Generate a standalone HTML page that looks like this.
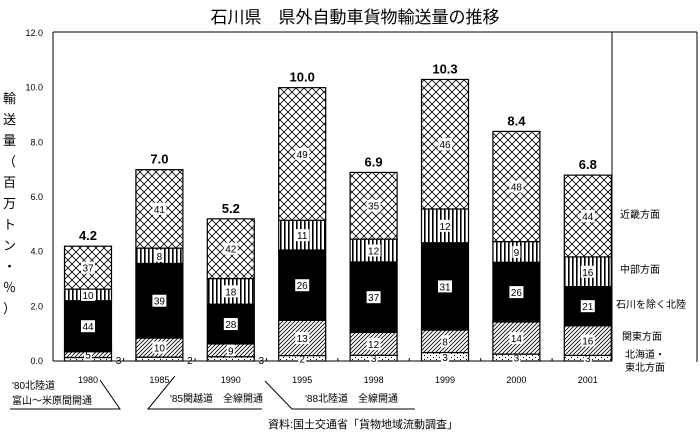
<!DOCTYPE html>
<html><head><meta charset="utf-8"><style>
body{margin:0;background:#fff;}
svg{display:block;font-family:"Liberation Sans","Noto Sans CJK JP",sans-serif;}
</style></head><body>
<svg width="700" height="434" viewBox="0 0 700 434" id="chart">
<defs>
<pattern id="pCross" width="8" height="8" patternUnits="userSpaceOnUse"><rect width="8" height="8" fill="#fff"/><path d="M0,0L8,8M8,0L0,8" stroke="#000" stroke-width="0.8"/></pattern>
<pattern id="pVert" width="4" height="4" patternUnits="userSpaceOnUse"><rect width="4" height="4" fill="#fff"/><rect x="0" width="1.6" height="4" fill="#000"/></pattern>
<pattern id="pDiag" width="4" height="4" patternUnits="userSpaceOnUse"><rect width="4" height="4" fill="#fff"/><path d="M-1,5L5,-1M-1,1L1,-1M3,5L5,3" stroke="#000" stroke-width="0.8"/></pattern>
<pattern id="pDot" width="6" height="4" patternUnits="userSpaceOnUse"><rect width="6" height="4" fill="#fff"/><rect x="1" y="1" width="1" height="1" fill="#000"/><rect x="4" y="3" width="1" height="1" fill="#000"/></pattern>
</defs>
<text x="355" y="23" font-size="17" text-anchor="middle">石川県　県外自動車貨物輸送量の推移</text>
<line x1="53" y1="32" x2="697" y2="32" stroke="#000"/>
<line x1="697" y1="32" x2="697" y2="362" stroke="#000"/>
<line x1="53" y1="32" x2="53" y2="361" stroke="#000"/>
<line x1="612" y1="32" x2="612" y2="361" stroke="#000"/>
<line x1="53" y1="361" x2="612" y2="361" stroke="#000"/>
<g id="yticks"></g>
<text font-size="13">
<tspan x="3" y="103">輸</tspan><tspan x="3" y="124">送</tspan><tspan x="3" y="145">量</tspan><tspan x="3" y="166">（</tspan><tspan x="3" y="187">百</tspan><tspan x="3" y="208">万</tspan><tspan x="3" y="229">ト</tspan><tspan x="3" y="250">ン</tspan><tspan x="3" y="271">・</tspan><tspan x="3" y="292">％</tspan><tspan x="3" y="313">）</tspan></text>
<g id="bars"></g>
<g font-size="10">
<text x="620" y="218">近畿方面</text>
<text x="620" y="273">中部方面</text>
<text x="616" y="308">石川を除く北陸</text>
<text x="622" y="340">関東方面</text>
<text x="625" y="358">北海道・</text>
<text x="625" y="371">東北方面</text>
</g>
<g font-size="10" stroke="#000" fill="none">
<text x="12" y="389" fill="#000" stroke="none">'80北陸道</text>
<text x="12" y="404" fill="#000" stroke="none">富山〜米原間開通</text>
<polyline points="10,409 120,409 100,380"/>
<text x="170" y="402" fill="#000" stroke="none">'85関越道　全線開通</text>
<polyline points="175,376 148,409 262,409"/>
<text x="305" y="402" fill="#000" stroke="none">'88北陸道　全線開通</text>
<polyline points="265,381 292,409 415,409"/>
<text x="268" y="428" fill="#000" stroke="none" font-size="11">資料:国土交通省「貨物地域流動調査」</text>
</g>
</svg>
<script>
const years = ["1980","1985","1990","1995","1998","1999","2000","2001"];
const totals = [4.2, 7.0, 5.2, 10.0, 6.9, 10.3, 8.4, 6.8];
const pctTohoku = [3, 2, 3, 2, 3, 3, 3, 3];
const pctKanto = [5, 10, 9, 13, 12, 8, 14, 16];
const pctHokuriku = [44, 39, 28, 26, 37, 31, 26, 21];
const pctChubu = [10, 8, 18, 11, 12, 12, 9, 16];
const pctKinki = [37, 41, 42, 49, 35, 46, 48, 44];
const yTicks = [0, 2, 4, 6, 8, 10, 12];

const NS = "http://www.w3.org/2000/svg";
function y(v){ return 361 - v * (328 / 12); }
function x(i){ return 88 + i * 71.4; }
const BW = 47;
function mk(tag, attrs, parent){ const e = document.createElementNS(NS, tag); for (const k in attrs) e.setAttribute(k, attrs[k]); parent.appendChild(e); return e; }

const yt = document.getElementById('yticks');
yTicks.forEach(function(t){
  const tx = mk('text', {x: 43, y: y(t) + 3, 'font-size': 9, 'text-anchor': 'end'}, yt);
  tx.textContent = t.toFixed(1);
  
  
});

const series = [
  {name: 'tohoku', vals: pctTohoku, fill: 'url(#pDot)'},
  {name: 'kanto', vals: pctKanto, fill: 'url(#pDiag)'},
  {name: 'hokuriku', vals: pctHokuriku, fill: '#000'},
  {name: 'chubu', vals: pctChubu, fill: 'url(#pVert)'},
  {name: 'kinki', vals: pctKinki, fill: 'url(#pCross)'}
];
const g = document.getElementById('bars');
years.forEach(function(yr, i){
  const cx = x(i);
  const sumPct = series.reduce(function(a, s){ return a + s.vals[i]; }, 0);
  let cum = 0;
  series.forEach(function(s, si){
    const v0 = totals[i] * cum / sumPct;
    cum += s.vals[i];
    const v1 = totals[i] * cum / sumPct;
    const r = mk('rect', {x: cx - BW/2, y: y(v1), width: BW, height: y(v0) - y(v1), fill: s.fill, stroke: '#000', 'stroke-width': 1.2}, g);
    
    
    const my = (y(v0) + y(v1)) / 2;
    let lx = cx;
    let ly = my;
    if (si === 0 && i < 3) { lx = cx + BW/2 + 7; ly = y(0) - 1; }
    const label = String(s.vals[i]);
    const w = label.length * 6 + 2;
    if (!(si === 0 && i < 3)) {
      const bg = mk('rect', {x: lx - w/2, y: ly - 6, width: w, height: 12, fill: '#fff'}, g);
      
      
    }
    const t = mk('text', {x: lx, y: ly + 4, 'font-size': 10, 'text-anchor': 'middle'}, g);
    t.textContent = label;
    
    
  });
  const tt = mk('text', {x: cx, y: y(totals[i]) - 6, 'font-size': 13, 'font-weight': 'bold', 'text-anchor': 'middle'}, g);
  tt.textContent = totals[i].toFixed(1);
  
  
  const xl = mk('text', {x: cx, y: 383, 'font-size': 9, 'text-anchor': 'middle'}, g);
  xl.textContent = yr;
  
  
  if (i > 0) {
    const tk = mk('line', {x1: cx - 35.7, y1: 361, x2: cx - 35.7, y2: 358, stroke: '#000'}, g);
    
    
  }
});
</script>
</body></html>
